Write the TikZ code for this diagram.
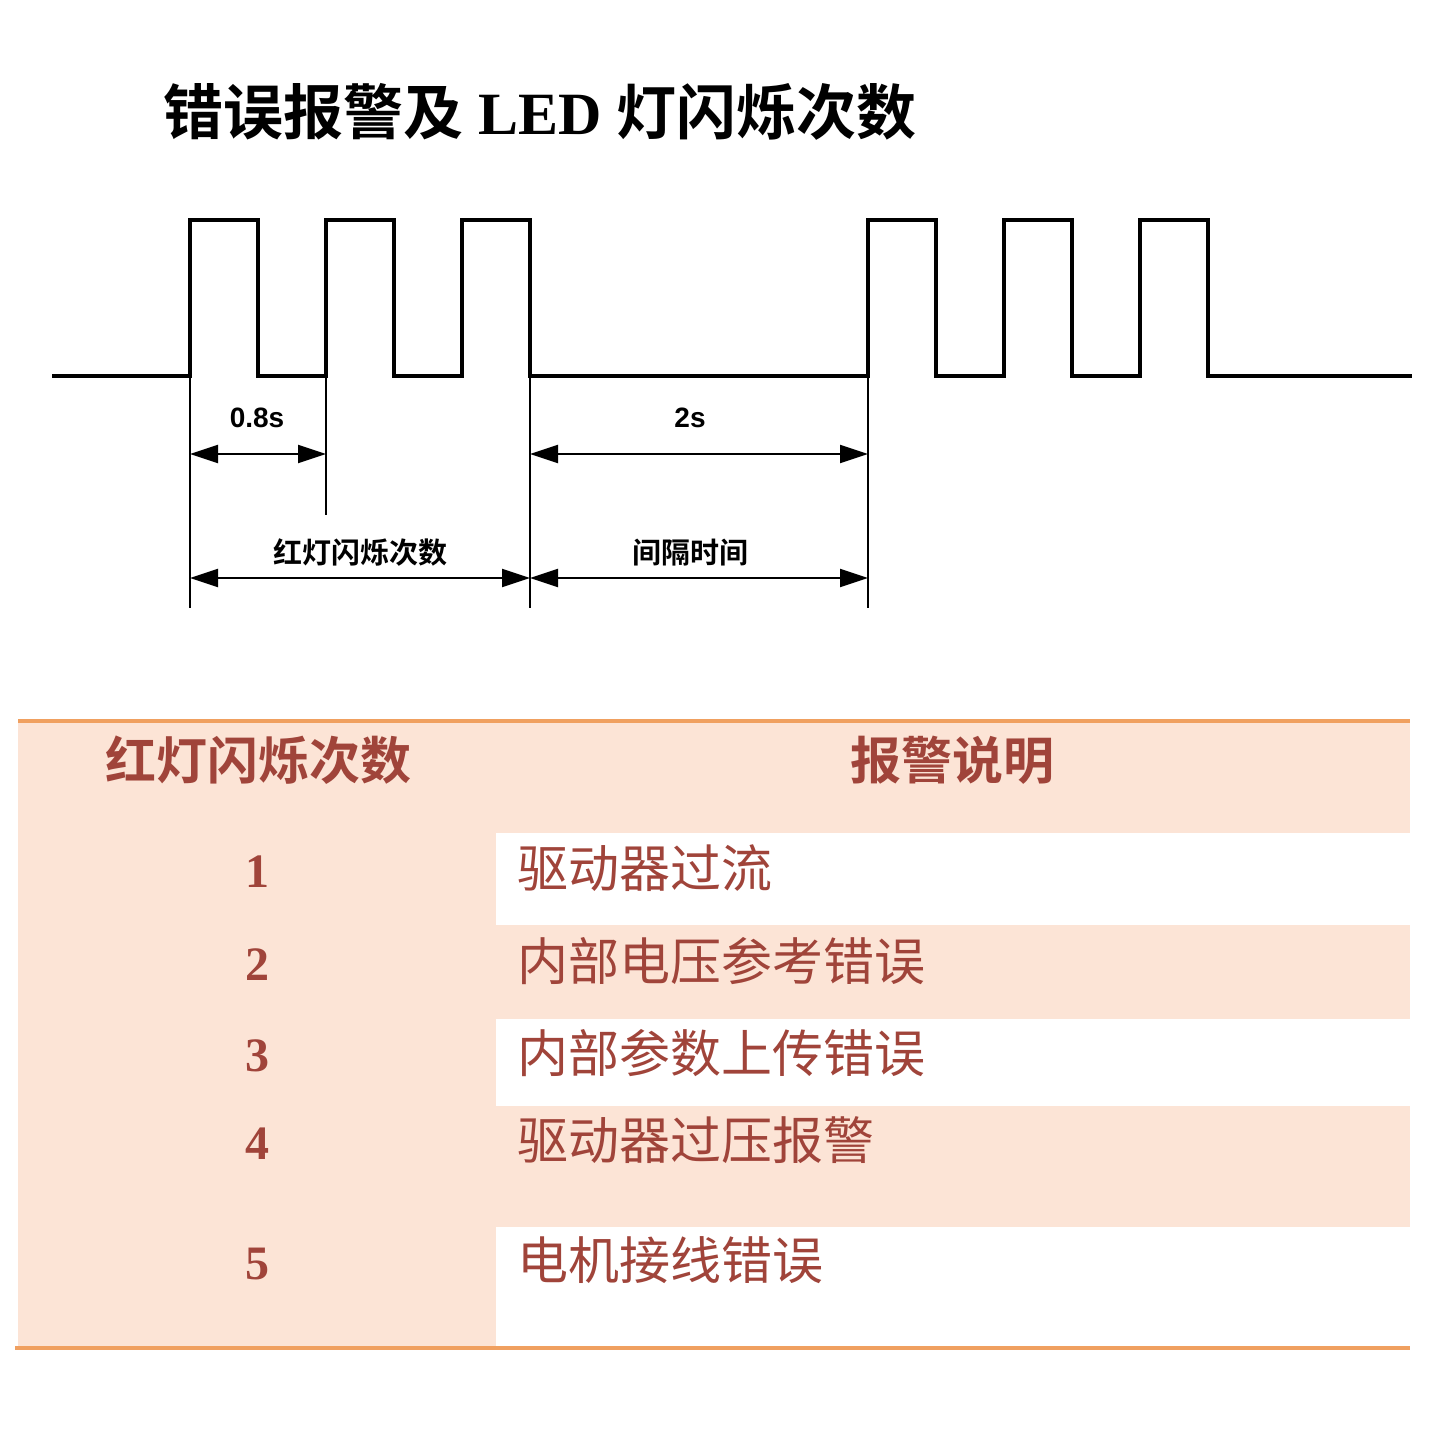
\documentclass[tikz,border=0pt]{standalone}
\usepackage{fontspec}
\setmainfont{Liberation Serif}
\newfontfamily\cjk{Noto Sans CJK SC}
\newfontfamily\cjkb{Noto Sans CJK SC Bold}
\newfontfamily\arialb{Liberation Sans Bold}
\usetikzlibrary{arrows.meta}
\definecolor{peach}{HTML}{FCE4D6}
\definecolor{orl}{HTML}{F0A060}
\definecolor{brn}{HTML}{A0443A}
\begin{document}
\begin{tikzpicture}[x=1pt,y=-1pt,
  wave/.style={line width=4pt,line join=miter},
  ext/.style={line width=1.2pt},
  dim/.style={line width=2pt,{Triangle[length=28pt,width=18pt]}-{Triangle[length=28pt,width=18pt]}},
  lab/.style={font=\fontsize{28}{30}\selectfont\arialb},
  clab/.style={font=\fontsize{29}{32}\selectfont\cjkb},
  hdr/.style={font=\fontsize{51}{53}\selectfont\cjkb,text=brn},
  num/.style={font=\fontsize{48}{50}\selectfont\bfseries,text=brn},
  desc/.style={font=\fontsize{51}{53}\selectfont\cjk,text=brn,anchor=west}]
\useasboundingbox (0,0) rectangle (1440,1440);
\node[anchor=west,font=\fontsize{60}{62}\selectfont] (title) at (160,112) {{\cjkb 错误报警及} \textbf{LED} {\cjkb 灯闪烁次数}};
% waveform
\draw[wave] (52,376) -- (190,376) -- (190,220) -- (258,220) -- (258,376) -- (326,376) -- (326,220) -- (394,220) -- (394,376) -- (462,376) -- (462,220) -- (530,220) -- (530,376) -- (868,376) -- (868,220) -- (936,220) -- (936,376) -- (1004,376) -- (1004,220) -- (1072,220) -- (1072,376) -- (1140,376) -- (1140,220) -- (1208,220) -- (1208,376) -- (1412,376);
% extension lines
\coordinate (a0) at (190,378); \coordinate (a1) at (190,608);
\coordinate (b0) at (326,378); \coordinate (b1) at (326,515);
\coordinate (c0) at (530,378); \coordinate (c1) at (530,608);
\coordinate (d0) at (868,378); \coordinate (d1) at (868,608);
\draw[ext] (a0) -- (a1); \draw[ext] (b0) -- (b1); \draw[ext] (c0) -- (c1); \draw[ext] (d0) -- (d1);
\coordinate (p1) at (190,454); \coordinate (p2) at (326,454);
\coordinate (p3) at (530,454); \coordinate (p4) at (868,454);
\coordinate (q1) at (190,578); \coordinate (q2) at (530,578); \coordinate (q3) at (868,578);
\draw[dim] (p1) -- (p2); \draw[dim] (p3) -- (p4);
\draw[dim] (q1) -- (q2); \draw[dim] (q2) -- (q3);
\node[lab] (l1) at (257,418) {0.8s};
\node[lab] (l2) at (690,418) {2s};
\node[clab] (l3) at (360,553) {红灯闪烁次数};
\node[clab] (l4) at (690,553) {间隔时间};
% table
\fill[peach] (18,721) rectangle (1410,1348);
\fill[white] (496,833) rectangle (1410,925);
\fill[white] (496,1019) rectangle (1410,1106);
\fill[white] (496,1227) rectangle (1410,1346);
\draw[orl,line width=4pt] (18,721) -- (1410,721);
\draw[orl,line width=4pt] (15,1348) -- (1410,1348);
\node[hdr] (h1) at (258,760) {红灯闪烁次数};
\node[hdr] (h2) at (952,760) {报警说明};
\node[num] (n1) at (257,872) {1};
\node[num] (n2) at (257,965) {2};
\node[num] (n3) at (257,1056) {3};
\node[num] (n4) at (257,1144) {4};
\node[num] (n5) at (257,1264) {5};
\node[desc] (e1) at (514,868) {驱动器过流};
\node[desc] (e2) at (514,961) {内部电压参考错误};
\node[desc] (e3) at (514,1053) {内部参数上传错误};
\node[desc] (e4) at (514,1140) {驱动器过压报警};
\node[desc] (e5) at (514,1260) {电机接线错误};
\end{tikzpicture}
\end{document}
